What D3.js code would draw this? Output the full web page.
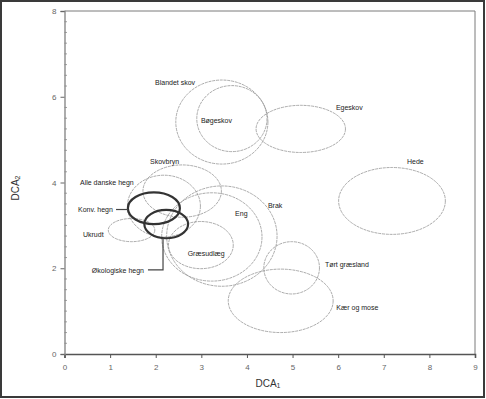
<!DOCTYPE html>
<html><head><meta charset="utf-8">
<script src="https://cdn.jsdelivr.net/npm/d3@7"></script>
<style>body{margin:0;background:#fff}svg{display:block}</style>
</head><body><svg id="c" width="486" height="399"></svg>
<script>
// Vegetation groups (DCA ordination), ellipses: centre and radii in DCA units
const groups  = ["Blandet skov","Bøgeskov","Egeskov","Hede","Skovbryn","Alle danske hegn","Konv. hegn","Økologiske hegn","Ukrudt","Græsudlæg","Eng","Brak","Tørt græsland","Kær og mose"];
const centerX = [3.45, 3.67, 5.18, 7.18, 2.58, 2.18, 1.96, 2.23, 1.47, 2.99, 3.23, 3.45, 4.98, 4.74];
const centerY = [5.41, 5.49, 5.25, 3.57, 3.80, 3.45, 3.40, 3.03, 2.89, 2.54, 2.73, 2.75, 2.01, 1.24];
const radiusX = [1.01, 0.77, 0.98, 1.17, 0.86, 0.80, 0.57, 0.48, 0.51, 0.71, 1.10, 1.21, 0.61, 1.15];
const radiusY = [0.98, 0.77, 0.55, 0.78, 0.61, 0.72, 0.37, 0.33, 0.27, 0.55, 1.03, 1.17, 0.61, 0.74];
const highlighted = ["Konv. hegn","Økologiske hegn"];
// label anchor (left, baseline) in DCA units
const labelX = [1.985, 2.99, 5.95, 7.51, 1.875, 0.34, 0.296, 0.60, 0.405, 2.70, 3.74, 4.46, 5.71, 5.96];
const labelY = [6.27, 5.385, 5.70, 4.42, 4.44, 3.94, 3.31, 1.88, 2.72, 2.28, 3.22, 3.41, 2.03, 1.03];
const xTicks = [0,1,2,3,4,5,6,7,8,9];
const yTicks = [0,2,4,6,8];
const yMinor = d3.range(0, 8.001, 0.25);
// leader lines (DCA units)
const leaderKonvX = [1.13, 1.39], leaderKonvY = [3.37, 3.37];
const leaderOekoX = [1.83, 2.16, 2.16], leaderOekoY = [1.96, 1.96, 2.70];

const svg = d3.select("#c");
const x = d3.scaleLinear().domain([0, 9]).range([64.5, 475]);
const y = d3.scaleLinear().domain([0, 8]).range([354, 11]);

// outer border
svg.append("rect").attr("x", 1).attr("y", 1).attr("width", 483).attr("height", 396)
  .attr("fill", "#fff").attr("stroke", "#3a3a3a").attr("stroke-width", 2);

// frame top/right
svg.append("path").attr("d", `M${x(0)},${y(8)}H${x(9)}V${y(0)}`)
  .attr("fill", "none").attr("stroke", "#7a7a7a").attr("stroke-width", 1);

// ellipses
const data = groups.map((g, i) => ({g, cx: centerX[i], cy: centerY[i], rx: radiusX[i], ry: radiusY[i], lx: labelX[i], ly: labelY[i]}));
const sx = x(1) - x(0), sy = y(0) - y(1);
svg.append("g").selectAll("ellipse").data(data.filter(d => !highlighted.includes(d.g))).join("ellipse")
  .attr("cx", d => x(d.cx)).attr("cy", d => y(d.cy))
  .attr("rx", d => d.rx * sx).attr("ry", d => d.ry * sy)
  .attr("fill", "none").attr("stroke", "#8f8f8f").attr("stroke-width", 0.75)
  .attr("stroke-dasharray", "3,0.8");
svg.append("g").selectAll("ellipse").data(data.filter(d => highlighted.includes(d.g))).join("ellipse")
  .attr("cx", d => x(d.cx)).attr("cy", d => y(d.cy))
  .attr("rx", d => d.rx * sx).attr("ry", d => d.ry * sy)
  .attr("fill", "none").attr("stroke", "#333").attr("stroke-width", 2.2);

// leaders
const line = d3.line().x(d => x(d[0])).y(d => y(d[1]));
svg.append("path").attr("d", line(leaderKonvX.map((v, i) => [v, leaderKonvY[i]])))
  .attr("fill", "none").attr("stroke", "#444").attr("stroke-width", 1.2);
svg.append("path").attr("d", line(leaderOekoX.map((v, i) => [v, leaderOekoY[i]])))
  .attr("fill", "none").attr("stroke", "#444").attr("stroke-width", 1.2);

// labels
svg.append("g").selectAll("text").data(data).join("text")
  .attr("x", d => x(d.lx)).attr("y", d => y(d.ly))
  .attr("font-family", "Liberation Sans, Arial, sans-serif").attr("font-size", 7)
  .attr("fill", "#222").text(d => d.g);

// x axis
const xAxis = svg.append("g").attr("transform", `translate(0,${y(0)})`)
  .call(d3.axisBottom(x).tickValues(xTicks).tickSize(4).tickPadding(6).tickFormat(d3.format("d")));
xAxis.select(".domain").attr("stroke", "#555").attr("stroke-width", 1.6);
xAxis.selectAll(".tick line").attr("stroke", "#555");
xAxis.selectAll("text").attr("font-family", "Liberation Sans, Arial, sans-serif").attr("font-size", 8).attr("fill", "#666");

// y axis
const yAxis = svg.append("g").attr("transform", `translate(${x(0)},0)`)
  .call(d3.axisLeft(y).tickValues(yTicks).tickSize(4).tickPadding(4).tickFormat(d3.format("d")));
yAxis.select(".domain").attr("stroke", "#8a8a8a").attr("stroke-width", 1.4);
yAxis.selectAll(".tick line").attr("stroke", "#666");
yAxis.selectAll("text").attr("font-family", "Liberation Sans, Arial, sans-serif").attr("font-size", 8).attr("fill", "#666");
svg.append("g").selectAll("line").data(yMinor.filter(v => v % 2 !== 0)).join("line")
  .attr("x1", x(0)).attr("x2", x(0) + 2.5).attr("y1", d => y(d)).attr("y2", d => y(d))
  .attr("stroke", "#888").attr("stroke-width", 0.8);

// axis titles
const tx = svg.append("text").attr("x", 268).attr("y", 387).attr("text-anchor", "middle")
  .attr("font-family", "Liberation Sans, Arial, sans-serif").attr("font-size", 10).attr("fill", "#333");
tx.append("tspan").text("DCA");
tx.append("tspan").attr("font-size", 7).attr("dy", 1).text("1");
const ty = svg.append("text").attr("transform", "translate(19,188) rotate(-90)").attr("text-anchor", "middle")
  .attr("font-family", "Liberation Sans, Arial, sans-serif").attr("font-size", 10).attr("fill", "#333");
ty.append("tspan").text("DCA");
ty.append("tspan").attr("font-size", 7).attr("dy", 1).text("2");
</script></body></html>
